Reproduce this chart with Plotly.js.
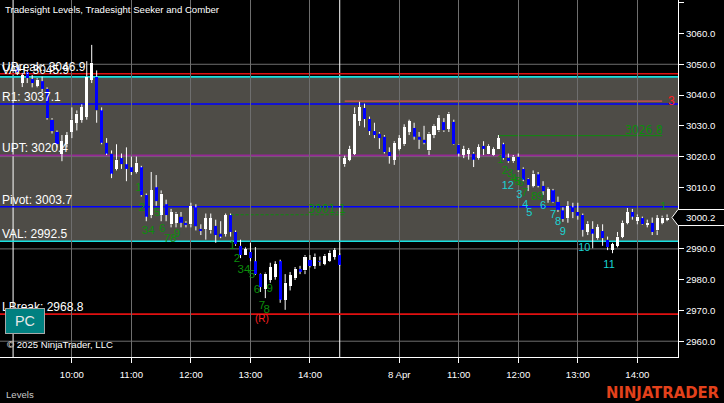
<!DOCTYPE html>
<html><head><meta charset="utf-8">
<script src="https://cdn.plot.ly/plotly-3.0.1.min.js"></script>
<style>html,body{margin:0;padding:0;background:#000;overflow:hidden}#chart{width:724px;height:403px}</style>
</head><body><div id="chart"></div>
<script>
// ---- data (bar index 0..131 = 5-minute bars, two sessions) ----
const opens = [3049,3044,3047.5,3045.2,3043,3044.5,3042,3032,3028,3021,3024,3028,3031,3032,3033,3045,3046,3035,3024.5,3021,3016,3019.5,3017.5,3016.5,3015,3016.5,3007.5,3001,3010,3001,3004.5,2998,2998.5,3000.5,2998.5,2998,3003.5,2996.5,2996.5,2996,2997.5,2995,2995,3001,2995.5,2991,2988,2989,2986,2981.8,2977,2980,2981,2986,2973.5,2978,2980.5,2983.5,2983,2986.4,2984.5,2986.2,2985.2,2986.2,2987.4,2988,
3017.5,3019,3021,3031.5,3035.8,3032.2,3028.3,3027.5,3026.5,3021.5,3019,3022.5,3024,3028,3029.3,3026.5,3025.5,3022,3027,3028.5,3031.2,3029,3031.3,3023.8,3020.5,3021,3021,3019.5,3023.5,3021,3020.5,3022.5,3024,3019.7,3018.5,3020,3016,3012.7,3010.5,3014.2,3010.5,3006,3009,3005.3,3002.5,3000,3003.5,3002,3001,2995.5,2996.5,2993.5,2995.8,2993,2989.8,2991,2994,2998.5,3002,2999,3000,2997.8,2998.5,2996,2998.5,2999.5];
const highs = [3050,3047.2,3048,3046.5,3045.5,3046,3042.5,3032.5,3028.5,3027,3028,3036,3035,3037,3051,3056.3,3048,3036,3026,3022,3024,3021,3023,3020,3020,3017,3008,3015,3014,3009,3006,3003,3002,3002,2999,3005,3004.5,2998,3001.5,3001.5,2999.5,2999,3001.5,3001.5,2996,2993,2990.5,2992,2990.6,2982,2982.3,2985.5,2986,2986.5,2981.8,2982.5,2984.1,2984.5,2988,2988,2988.5,2987.5,2988.3,2989.5,2990.3,2988.6,
3020.3,3023.5,3036,3037.8,3037.2,3033,3031,3028,3027,3023,3025,3027,3030.5,3032,3031,3028,3030,3028,3030.5,3033.5,3032.5,3034.5,3032,3024,3023.5,3022.8,3021.5,3024,3025,3024,3023,3027,3024.5,3021,3020.5,3021,3016.5,3013,3015.5,3015,3012,3010,3009.5,3007,3003.5,3005.5,3005,3005,3001.5,2999,2999,2998,2998,2994,2992,2995.5,2999.2,3003.3,3003,3001.2,3000.5,2999.5,3000.2,3001,3000.8,3001.2];
const lows = [3046.5,3042.6,3043.9,3042.5,3042.5,3041,3032,3027.5,3023,3018.5,3023,3026,3028.5,3031,3032,3043.9,3031,3024,3020.5,3013,3015.5,3016,3012,3014,3014.5,3007,2999,3000,3004,2999,2999,2997,2997,2997,2997,2997,2996,2994.5,2993,2995,2992,2993.5,2994,2994,2991,2987,2988,2986,2981.5,2976,2974,2979,2980,2972.5,2970.2,2976.5,2979.9,2981.8,2981.8,2984,2983.5,2984.5,2984.7,2985.8,2986.5,2984.5,
3016.7,3018.5,3020.5,3030,3029.5,3027,3026,3022.5,3021,3017.7,3017.3,3022,3023.5,3027,3025.5,3022.5,3024,3020.5,3026,3028,3028,3028,3023.8,3020,3019.5,3019,3016.6,3019,3020.5,3020.8,3020.3,3022.5,3019,3018,3018,3015,3012,3008.8,3010,3010,3007.5,3005,3005,3002,2998.8,2998.5,3000,2999.5,2994,2994.5,2990.2,2993,2991,2989.6,2988.6,2990.5,2993.5,2998,2999.5,2998,2997.8,2997,2994.5,2994.5,2998,2999];
const closes = [3047.5,3046.5,3045.5,3043.9,3045,3042,3032.5,3028.3,3024,3025,3027,3032,3034,3036,3046,3050.5,3035,3024.5,3021,3014.5,3019,3017.5,3016,3015,3018,3007.5,3000.5,3009,3005.5,3008,3001,3002,3001.5,2998.5,2997.8,3004,2997.3,2995.8,3000,3000,2994.5,2994,3001,2995.5,2991.5,2988,2990,2987,2981.8,2977.6,2982,2984,2985,2973.5,2979,2981.5,2983.5,2982.6,2987.5,2984.4,2987.5,2985.8,2987.8,2988.8,2989.6,2984.8,
3019.5,3022.5,3034,3036,3032.2,3028.3,3027,3026,3021.5,3020.2,3024.5,3026,3029.5,3031.5,3026.5,3025.5,3024.5,3027.5,3030,3032.5,3028.5,3034,3024,3021,3022.5,3022,3019,3023,3022.5,3023.5,3022.5,3026,3019.5,3018.5,3020,3015.5,3012.5,3010.8,3014.5,3010.5,3008.7,3009.5,3005.3,3002.7,2999.7,3004,3002,3000.8,2996.2,2998.2,2995,2997,2993.5,2990.5,2991.5,2994,2998.5,3002,3000.5,3000.5,2998,2998.5,2995.5,3000,3000.2,3000.2];

const tickBars = [11,23,35,47,59,77,89,101,113,125];
const tickLabels = ['10:00','11:00','12:00','13:00','14:00','8 Apr','11:00','12:00','13:00','14:00'];
const sessionBreakBars = [-0.85, 65.0];

const levelNames  = ['UBreak','VAH','R1','UPT','Pivot','VAL','LBreak'];
const levelValues = [3046.9, 3045.9, 3037.1, 3020.4, 3003.7, 2992.5, 2968.8];

const gridPrices = [2960, 2990, 3020, 3050];
const priceTicks = [2960,2970,2980,2990,3000,3010,3020,3030,3040,3050,3060,3070];

const targetValues   = [3001.1, 3026.8];
const targetStartBar = [43, 97];
const targetEndBar   = [66, 130];

const priorLineValue = 3038.0;
const priorLineStart = 66, priorLineEnd = 130;

const seekerText  = ['1','2','5','34','6','78','9','1','2','34','5','6','9','7','8','1','2','3','4','5','6','7','8','9','1'];
const seekerBar   = [24.4,25.1,28.2,26.4,29.2,30.8,32.2,43.3,44.3,45.7,47.3,48.3,50.9,49.3,50.3,97.4,98.3,99.3,100.1,100.9,101.5,102.3,104.2,105.4,130.2];
const seekerPrice = [3009.8,3003.3,3001.7,2995.8,2996.5,2993.2,2994.8,2990.9,2986.7,2983.1,2981.5,2976.6,2977.0,2971.4,2970.1,3018.9,3015.3,3014.3,3012.7,3011.7,3011.4,3008.1,3006.8,3006.8,3003.6];

const comberText  = ['12','3','4','5','6','7','8','9','10','11'];
const comberBar   = [98.9,101.2,102.4,103.2,106,108,109,110,114.3,119.3];
const comberPrice = [3010.4,3007.5,3004.3,3001.7,3003.9,3001,2998.7,2995.5,2990.3,2984.8];

const recycleText = '(R)', recycleBar = 49.3, recyclePrice = 2966.9;

// ---- styles ----
const FONT = 'Arial, "Liberation Sans", sans-serif';
const levelColors = {UBreak:'#e01010', VAH:'#19e0e0', R1:'#0000ff', UPT:'#962896', Pivot:'#0000ff', VAL:'#19e0e0', LBreak:'#e01010'};
const UP = '#ffffff', DOWN = '#0000ff';

// ---- build traces ----
const idx = opens.map((_, i) => i);
const wx = [], wy = [];
idx.forEach(i => {
  const top = Math.max(opens[i], closes[i]), bot = Math.min(opens[i], closes[i]);
  wx.push(i, i, null, i, i, null);
  wy.push(highs[i], top, null, bot, lows[i], null);
});
const wicks = {type:'scatter', mode:'lines', x:wx, y:wy, line:{color:'#ffffff', width:1}, hoverinfo:'skip', showlegend:false, connectgaps:false};
const bodies = {type:'bar', x:idx, base:idx.map(i => Math.min(opens[i], closes[i])),
  y:idx.map(i => Math.max(Math.abs(closes[i]-opens[i]), 0.35)), width:0.62,
  marker:{color:idx.map(i => closes[i] >= opens[i] ? UP : DOWN), line:{width:0}}, hoverinfo:'skip', showlegend:false};
const seeker = {type:'scatter', mode:'text', x:seekerBar, y:seekerPrice, text:seekerText,
  textfont:{family:FONT, size:11.5, color:'#0c8c0c'}, hoverinfo:'skip', showlegend:false, cliponaxis:false};
const comber = {type:'scatter', mode:'text', x:comberBar, y:comberPrice, text:comberText,
  textfont:{family:FONT, size:11, color:'#19d3d3'}, hoverinfo:'skip', showlegend:false, cliponaxis:false};
const recycle = {type:'scatter', mode:'text', x:[recycleBar], y:[recyclePrice], text:[recycleText],
  textfont:{family:FONT, size:10, color:'#ff2020'}, hoverinfo:'skip', showlegend:false};

// ---- shapes ----
const shapes = [];
const vah = levelValues[levelNames.indexOf('VAH')], val = levelValues[levelNames.indexOf('VAL')];
shapes.push({type:'rect', xref:'paper', x0:0, x1:1, yref:'y', y0:val, y1:vah, fillcolor:'#4e4c47', line:{width:0}, layer:'below'});
gridPrices.forEach(p => shapes.push({type:'line', xref:'paper', x0:0, x1:1, yref:'y', y0:p, y1:p, line:{color:'#6e6e6e', width:1}, layer:'below'}));
sessionBreakBars.forEach(b => shapes.push({type:'line', xref:'x', x0:b, x1:b, yref:'paper', y0:0, y1:1, line:{color:'#ffffff', width:1}, layer:'below'}));
levelNames.forEach((n, k) => shapes.push({type:'line', xref:'paper', x0:0, x1:1, yref:'y', y0:levelValues[k], y1:levelValues[k], line:{color:levelColors[n], width:1.6}, layer:'below'}));
shapes.push({type:'line', xref:'x', x0:priorLineStart, x1:priorLineEnd, yref:'y', y0:priorLineValue, y1:priorLineValue, line:{color:'#d9534f', width:1.3}, layer:'below'});
targetValues.forEach((v, k) => shapes.push({type:'line', xref:'x', x0:targetStartBar[k], x1:targetEndBar[k], yref:'y', y0:v, y1:v,
  line:{color:'#0c8c0c', width:1, dash: k === 0 ? '3px,2px' : 'solid'}, layer:'below'}));
const lastClose = closes[closes.length-1];
shapes.push({type:'path', xref:'paper', xsizemode:'pixel', xanchor:1, yref:'y', ysizemode:'pixel', yanchor:lastClose,
  path:'M -6 0 L 0 8 L 50 8 L 50 -8 L 0 -8 Z', fillcolor:'#000000', line:{color:'#ffffff', width:1}, layer:'above'});

// ---- annotations ----
const ann = [];
levelNames.forEach((n, k) => ann.push({xref:'paper', x:0, xanchor:'left', xshift:0, yref:'y', y:levelValues[k], yanchor:'bottom', yshift:-2,
  text:n + ': ' + levelValues[k].toFixed(1), showarrow:false, font:{family:FONT, size:12, color:'#ffffff'}}));
targetValues.forEach((v, k) => ann.push({xref:'x', x:targetEndBar[k], xanchor:'right', xshift:3, yref:'y', y:v, yanchor:'bottom', yshift:-3,
  text:v.toFixed(1), showarrow:false, font:{family:'"Liberation Sans Narrow", "DejaVu Sans Condensed", sans-serif', size:12, color:'#0c8c0c'}}));
ann.push({xref:'paper', x:1, xanchor:'right', xshift:-1, yref:'y', y:priorLineValue, yanchor:'middle', text:'3', showarrow:false, font:{family:FONT, size:12, color:'#ff2020'}});
ann.push({xref:'paper', x:1, xanchor:'left', xshift:6, yref:'y', y:lastClose, yanchor:'middle', text:lastClose.toFixed(1), showarrow:false, font:{family:FONT, size:9.6, color:'#ffffff'}});
ann.push({xref:'paper', x:5/678, xanchor:'left', yref:'paper', y:1-344/357, yanchor:'middle', text:'\u00a9 2025 NinjaTrader, LLC', showarrow:false, font:{family:FONT, size:9.6, color:'#ffffff'}});
ann.push({xref:'paper', x:5/678, xanchor:'left', yref:'paper', y:1-321/357, yanchor:'middle', text:'PC', showarrow:false, width:38, height:24, borderpad:0,
  bgcolor:'#008080', bordercolor:'#a8a8a8', borderwidth:1, font:{family:FONT, size:14.4, color:'#e8e8e8'}});
ann.push({xref:'paper', x:4/678, xanchor:'left', yref:'paper', y:-37/357, yanchor:'middle', text:'Levels', showarrow:false, font:{family:FONT, size:9.6, color:'#c8c8c8'}});
ann.push({xref:'paper', x:722/678, xanchor:'right', yref:'paper', y:-35/357, yanchor:'middle', text:'<b>NINJATRADER</b>', showarrow:false,
  font:{family:'"Liberation Sans Narrow", "Arial Narrow", "DejaVu Sans Condensed", sans-serif', size:16.5, color:'#e4411b'}});

const layout = {
  width:724, height:403, margin:{l:0, r:46, t:0, b:46, pad:0},
  paper_bgcolor:'#000000', plot_bgcolor:'#000000', showlegend:false, dragmode:false, bargap:0,
  title:{text:'Tradesight Levels, Tradesight Seeker and Comber', x:5/724, xanchor:'left', xref:'container', y:1-10/403, yanchor:'middle', yref:'container',
    font:{family:FONT, size:9.6, color:'#ffffff'}},
  xaxis:{range:[-3.49, 133.2], showline:true, linecolor:'#ffffff', linewidth:1, ticks:'outside', ticklen:5, tickwidth:1, tickcolor:'#ffffff',
    tickvals:tickBars, ticktext:tickLabels, tickfont:{family:FONT, size:9.6, color:'#ffffff'}, showgrid:true, gridcolor:'#6e6e6e', gridwidth:1,
    zeroline:false, fixedrange:true, ticklabelstandoff:3},
  yaxis:{range:[2954.87, 3070.89], side:'right', showline:true, linecolor:'#ffffff', linewidth:1, ticks:'outside', ticklen:5, tickwidth:1, tickcolor:'#ffffff',
    tickvals:priceTicks, ticktext:priceTicks.map(v => v === 3070 ? '' : v.toFixed(1)), tickfont:{family:FONT, size:9.6, color:'#ffffff'},
    showgrid:false, zeroline:false, fixedrange:true},
  shapes:shapes, annotations:ann
};
Plotly.newPlot('chart', [wicks, bodies, seeker, comber, recycle], layout, {displayModeBar:false, staticPlot:true});
</script></body></html>
